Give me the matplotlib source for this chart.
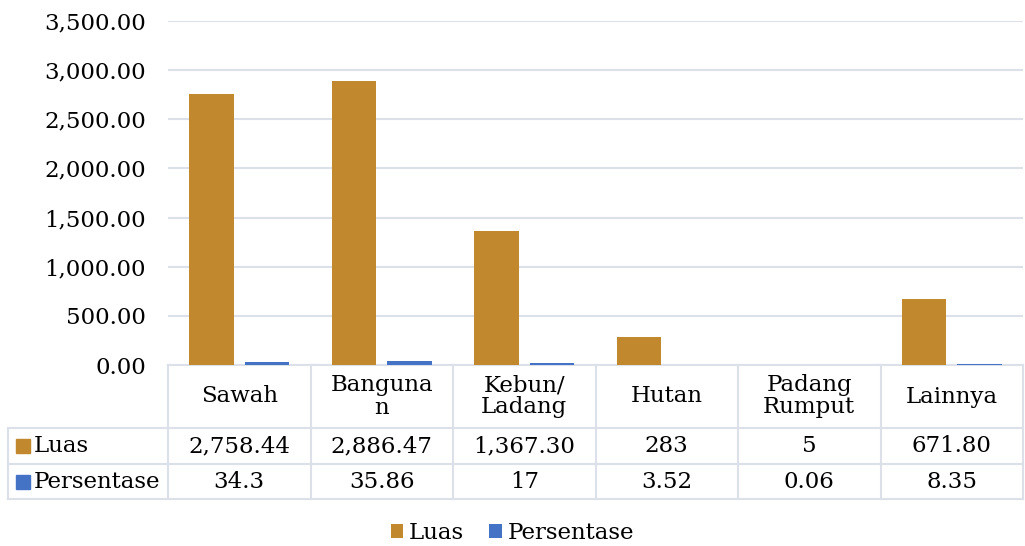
import matplotlib.pyplot as plt
from matplotlib.patches import Patch
from matplotlib.transforms import blended_transform_factory
import numpy as np

categories = ["Sawah", "Banguna\nn", "Kebun/\nLadang", "Hutan", "Padang\nRumput", "Lainnya"]
luas = [2758.44, 2886.47, 1367.30, 283, 5, 671.80]
persentase = [34.3, 35.86, 17, 3.52, 0.06, 8.35]
luas_labels = ["2,758.44", "2,886.47", "1,367.30", "283", "5", "671.80"]
persentase_labels = ["34.3", "35.86", "17", "3.52", "0.06", "8.35"]
series_names = ["Luas", "Persentase"]

GOLD = "#C1882D"
BLUE = "#4472C4"
GRID = "#DCE0E8"
FONT = "DejaVu Serif"
FS = 16.5

plt.rcParams["font.family"] = FONT

fig = plt.figure(figsize=(10.25, 5.46), dpi=100)
ax = fig.add_axes([168 / 1025, 1 - 365 / 546, 855 / 1025, 344 / 546])

x = np.arange(len(categories))
bar_w = 0.31
ax.bar(x - 0.195, luas, width=bar_w, color=GOLD, zorder=3)
ax.bar(x + 0.195, persentase, width=bar_w, color=BLUE, zorder=3)

ax.set_xlim(-0.5, len(categories) - 0.5)
ax.set_ylim(0, 3500)
ticks = np.arange(0, 3501, 500)
ax.set_yticks(ticks)
ax.set_yticklabels([f"{t:,.2f}" for t in ticks], fontsize=FS)
ax.set_xticks([])
ax.tick_params(axis="y", length=0, pad=16)
ax.grid(True, axis="y", color=GRID, linewidth=1.5, zorder=0)
for side in ax.spines.values():
    side.set_visible(False)

# data table under the plot
tr = blended_transform_factory(ax.transData, ax.transAxes)
row_edges = [0, -63 / 344, -99 / 344, -134 / 344]
left_edge = -0.5 - 160 / 142.5
kw = dict(color=GRID, linewidth=1.5, clip_on=False, zorder=1)
ax.plot([-0.5, len(categories) - 0.5], [0, 0], transform=tr, **kw)
for y in row_edges[1:]:
    ax.plot([left_edge, len(categories) - 0.5], [y, y], transform=tr, **kw)
for xb in np.arange(-0.5, len(categories), 1.0):
    ax.plot([xb, xb], [0, row_edges[-1]], transform=tr, **kw)
ax.plot([left_edge, left_edge], [row_edges[1], row_edges[-1]], transform=tr, **kw)

def mid(i):
    return (row_edges[i] + row_edges[i + 1]) / 2

for i, cat in enumerate(categories):
    ax.text(i, mid(0), cat, transform=tr, ha="center", va="center",
            fontsize=FS, linespacing=1.0, clip_on=False)
    ax.text(i, mid(1), luas_labels[i], transform=tr, ha="center", va="center",
            fontsize=FS, clip_on=False)
    ax.text(i, mid(2), persentase_labels[i], transform=tr, ha="center", va="center",
            fontsize=FS, clip_on=False)

for r, (name, col) in enumerate(zip(series_names, [GOLD, BLUE])):
    ax.plot([-0.5 - 145.5 / 142.5], [mid(r + 1)], marker="s", markersize=9.5,
            color=col, transform=tr, clip_on=False, linestyle="none")
    ax.text(-0.5 - 134 / 142.5, mid(r + 1), name, transform=tr, ha="left",
            va="center", fontsize=FS, clip_on=False)

handles = [Patch(facecolor=GOLD, label="Luas"), Patch(facecolor=BLUE, label="Persentase")]
fig.legend(handles=handles, loc="lower center", bbox_to_anchor=(0.5, -0.035), ncol=2,
           frameon=False, fontsize=FS, handlelength=0.55, handleheight=0.55,
           handletextpad=0.25, columnspacing=1.1)

fig.savefig("out.png", dpi=100)
